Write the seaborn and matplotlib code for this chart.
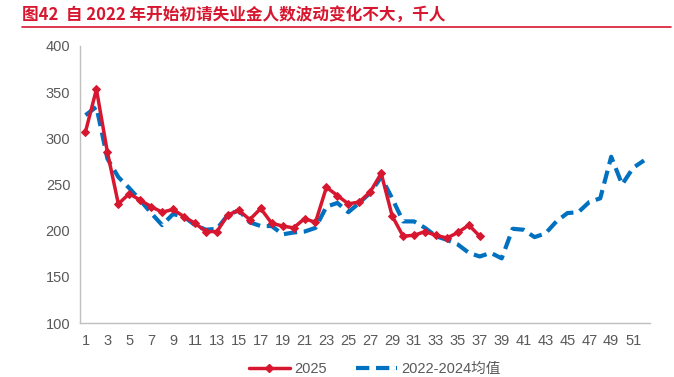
import pandas as pd
import seaborn as sns
import matplotlib.pyplot as plt
from matplotlib.lines import Line2D

# === DATA ===
weeks_2025 = list(range(1, 38))
claims_2025 = [307, 353, 285, 229, 240, 233, 226, 220, 223, 215,
               208, 199, 199, 217, 222, 212, 224, 208, 205, 203,
               213, 209, 247, 238, 229, 231, 242, 262, 216, 194,
               195, 199, 195, 192, 198, 206, 194]

weeks_avg = list(range(1, 53))
claims_avg = [325, 334, 278, 258, 246, 233, 219, 206, 218, 215,
              206, 201, 202, 217, 222, 209, 205, 205, 196, 198,
              199, 203, 226, 230, 220, 230, 241, 258, 235, 210,
              210, 203, 194, 190, 185, 176, 172, 176, 170, 202,
              201, 193, 197, 210, 219, 220, 231, 235, 280, 250,
              268, 276]

x_tick_labels = [str(w) for w in range(1, 53, 2)]
y_ticks = [100, 150, 200, 250, 300, 350, 400]

RED = '#D7172F'
BLUE = '#0070C0'
GRAY = '#595959'

df_2025 = pd.DataFrame({'week': weeks_2025, 'value': claims_2025})
df_avg = pd.DataFrame({'week': weeks_avg, 'value': claims_avg})

sns.set_style('white')
plt.rcParams['font.family'] = ['Liberation Sans', 'Noto Sans CJK SC', 'DejaVu Sans']

fig = plt.figure(figsize=(6.74, 3.77), dpi=100)
ax = fig.add_axes([0.1187, 0.1432, 0.845, 0.735])

# 2022-2024 average, dashed
sns.lineplot(data=df_avg, x='week', y='value', ax=ax, color=BLUE,
             linewidth=3, zorder=2)
ax.lines[-1].set_dashes([3.2, 1.6])
# 2025, solid with markers
sns.lineplot(data=df_2025, x='week', y='value', ax=ax, color=RED,
             linewidth=2.5, marker='D', markersize=4.5,
             markeredgecolor=RED, zorder=3)

ax.set_xlim(0.5, 52.5)
ax.set_ylim(100, 400)
ax.set_xticks(range(1, 53, 2))
ax.set_xticklabels(x_tick_labels)
ax.set_xticks([w + 0.5 for w in range(0, 53)], minor=True)
ax.set_yticks(y_ticks)
ax.set_xlabel('')
ax.set_ylabel('')

ax.tick_params(axis='x', which='major', length=0, pad=8, labelsize=10.5, labelcolor=GRAY)
ax.tick_params(axis='x', which='minor', length=4, color='#BFBFBF', width=0.8, direction='out')
ax.tick_params(axis='y', length=4, color='#BFBFBF', labelsize=10.5, labelcolor=GRAY, pad=3)

for side in ['top', 'right']:
    ax.spines[side].set_visible(False)
for side in ['left', 'bottom']:
    ax.spines[side].set_color('#BFBFBF')
    ax.spines[side].set_linewidth(1)

# legend at the bottom
handles = [
    Line2D([0], [0], color=RED, linewidth=2.5, marker='D', markersize=4.5),
    Line2D([0], [0], color=BLUE, linewidth=3, dashes=[3.2, 1.6]),
]
fig.legend(handles, ['2025', '2022-2024均值'], loc='center', bbox_to_anchor=(0.556, 0.02),
           ncol=2, frameon=False, fontsize=10.5, labelcolor=GRAY,
           handlelength=2.8, columnspacing=2.0, handletextpad=0.3)

# title with red underline
fig.text(0.033, 0.962, '图42  自 2022 年开始初请失业金人数波动变化不大，千人',
         fontsize=12, fontweight='bold', color=RED, va='center',
         family=['Noto Sans CJK SC', 'DejaVu Sans'])
fig.add_artist(Line2D([0.033, 0.996], [0.928, 0.928], color=RED, linewidth=1.2))

fig.savefig('out.png', dpi=100)
